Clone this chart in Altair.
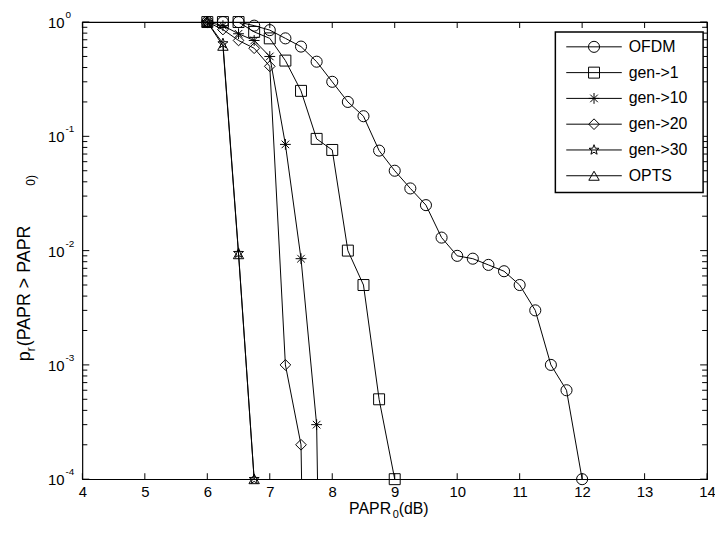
import math
import altair as alt
import pandas as pd

# ---------------- data ----------------
series_names = ["OFDM", "gen->1", "gen->10", "gen->20", "gen->30", "OPTS"]

ofdm_x = [6.0, 6.25, 6.5, 6.75, 7.0, 7.25, 7.5, 7.75, 8.0, 8.25, 8.5, 8.75, 9.0,
          9.25, 9.5, 9.75, 10.0, 10.25, 10.5, 10.75, 11.0, 11.25, 11.5, 11.75, 12.0]
ofdm_p = [1.0, 1.0, 1.0, 0.93, 0.85, 0.72, 0.61, 0.45, 0.30, 0.20, 0.15, 0.075, 0.05,
          0.035, 0.025, 0.013, 0.009, 0.0085, 0.0075, 0.0066, 0.005, 0.003, 0.001, 0.0006, 0.0001]

gen1_x = [6.0, 6.25, 6.5, 6.75, 7.0, 7.25, 7.5, 7.75, 8.0, 8.25, 8.5, 8.75, 9.0]
gen1_p = [1.0, 1.0, 1.0, 0.82, 0.72, 0.46, 0.25, 0.095, 0.076, 0.01, 0.005, 0.0005, 0.0001]

gen10_x = [6.0, 6.25, 6.5, 6.75, 7.0, 7.25, 7.5, 7.75, 8.0]
gen10_p = [1.0, 0.93, 0.79, 0.69, 0.5, 0.085, 0.0085, 0.0003, 1e-12]

gen20_x = [6.0, 6.25, 6.5, 6.75, 7.0, 7.25, 7.5, 7.75]
gen20_p = [1.0, 0.86, 0.69, 0.59, 0.41, 0.001, 0.0002, 1e-12]

gen30_x = [6.0, 6.25, 6.5, 6.75]
gen30_p = [1.0, 0.65, 0.0095, 0.0001]

opts_x = [6.0, 6.25, 6.5, 6.75]
opts_p = [1.0, 0.62, 0.0093, 0.0001]

x_tick_values = [4, 5, 6, 7, 8, 9, 10, 11, 12, 13, 14]
y_major_values = [1.0, 0.1, 0.01, 0.001, 0.0001]
y_exponents = ["0", "-1", "-2", "-3", "-4"]
y_minor_values = [k * 10.0 ** d for d in (-4, -3, -2, -1) for k in range(2, 10)]

# ---------------- build tables ----------------
W, H = 630, 461
FONT = "Liberation Sans"

rows = []
for name, xs_, ps in [("OFDM", ofdm_x, ofdm_p), ("gen->1", gen1_x, gen1_p),
                      ("gen->10", gen10_x, gen10_p), ("gen->20", gen20_x, gen20_p),
                      ("gen->30", gen30_x, gen30_p), ("OPTS", opts_x, opts_p)]:
    for x, p in zip(xs_, ps):
        rows.append({"series": name, "x": x, "p": p})
df = pd.DataFrame(rows)

star_pts = []
for k in range(10):
    a = -math.pi / 2 + k * math.pi / 5
    r = 1.0 if k % 2 == 0 else 0.42
    star_pts.append(f"{r*math.cos(a):.3f},{r*math.sin(a):.3f}")
star_path = "M" + "L".join(star_pts) + "Z"
asterisk_path = "M-1,0L1,0M0,-1L0,1M-0.7,-0.7L0.7,0.7M-0.7,0.7L0.7,-0.7"

shape_scale = alt.Scale(domain=series_names,
                        range=["circle", "square", asterisk_path, "diamond", star_path, "triangle-up"])
size_scale = alt.Scale(domain=series_names, range=[125, 110, 110, 130, 100, 170])

xs = alt.Scale(domain=[4, 14], nice=False, zero=False)
ys = alt.Scale(type="log", domain=[1e-4, 1], nice=False)

base = alt.Chart(df)

lines = base.mark_line(color="black", strokeWidth=1, clip=True).encode(
    x=alt.X("x:Q", scale=xs,
            axis=alt.Axis(values=x_tick_values, format="d", ticks=False, domain=False, grid=False,
                          title=None, labelFontSize=15, labelFont=FONT, labelColor="black",
                          labelPadding=5, labelFlush=False)),
    y=alt.Y("p:Q", scale=ys, axis=None),
    detail="series:N",
)

points = base.mark_point(filled=False, stroke="black", strokeWidth=1, opacity=1).encode(
    x=alt.X("x:Q", scale=xs),
    y=alt.Y("p:Q", scale=ys),
    shape=alt.Shape("series:N", scale=shape_scale, legend=None),
    size=alt.Size("series:N", scale=size_scale, legend=None),
).transform_filter("datum.p > 1e-6")

# ---------------- ticks (inside, mirrored) ----------------
xt = pd.DataFrame({"tx": x_tick_values})
xtick_b = alt.Chart(xt).mark_rule(color="black", strokeWidth=1).encode(
    x=alt.X("tx:Q", scale=xs), y=alt.value(H), y2=alt.value(H - 6))
xtick_t = alt.Chart(xt).mark_rule(color="black", strokeWidth=1).encode(
    x=alt.X("tx:Q", scale=xs), y=alt.value(0), y2=alt.value(6))

ymaj = pd.DataFrame({"ty": y_major_values, "e": y_exponents})
ymin = pd.DataFrame({"ty": y_minor_values})
ytick_lm = alt.Chart(ymaj).mark_rule(color="black").encode(
    y=alt.Y("ty:Q", scale=ys), x=alt.value(0), x2=alt.value(7))
ytick_rm = alt.Chart(ymaj).mark_rule(color="black").encode(
    y=alt.Y("ty:Q", scale=ys), x=alt.value(W), x2=alt.value(W - 7))
ytick_ln = alt.Chart(ymin).mark_rule(color="black").encode(
    y=alt.Y("ty:Q", scale=ys), x=alt.value(0), x2=alt.value(5))
ytick_rn = alt.Chart(ymin).mark_rule(color="black").encode(
    y=alt.Y("ty:Q", scale=ys), x=alt.value(W), x2=alt.value(W - 5))

ylab_base = alt.Chart(ymaj).mark_text(font=FONT, fontSize=15, align="right", baseline="middle",
                                      color="black", dy=1).encode(
    y=alt.Y("ty:Q", scale=ys), x=alt.value(-18), text=alt.value("10"))
ylab_exp = alt.Chart(ymaj).mark_text(font=FONT, fontSize=10, align="left", baseline="middle",
                                     color="black", dy=-7).encode(
    y=alt.Y("ty:Q", scale=ys), x=alt.value(-17), text="e:N")

# ---------------- axis titles ----------------
one = pd.DataFrame({"a": [0]})

def txt(s, x, y, size, angle=0, align="left", baseline="alphabetic"):
    kw = dict(font=FONT, fontSize=size, align=align, baseline=baseline, color="black")
    if angle:
        kw["angle"] = angle
    return alt.Chart(one).mark_text(**kw).encode(x=alt.value(x), y=alt.value(y), text=alt.value(s))

xtitle = [
    txt("PAPR", 269, 496, 16),
    txt("0", 313, 500, 11),
    txt("(dB)", 319, 496, 16),
]
ytitle = [
    txt("p", -53, 342, 18, angle=270),
    txt("r", -48, 332, 12, angle=270),
    txt("(PAPR  >  PAPR", -53, 327, 18, angle=270),
    txt("0)", -48, 165, 12, angle=270),
]

# ---------------- legend ----------------
leg = pd.DataFrame({"series": series_names, "ly": [25 + 26 * i for i in range(len(series_names))]})
leg_box = alt.Chart(one).mark_rect(fill="white", stroke="black", strokeWidth=1.5).encode(
    x=alt.value(477), x2=alt.value(626), y=alt.value(10), y2=alt.value(172))
leg_line = alt.Chart(leg).mark_rule(color="black", strokeWidth=1).encode(
    x=alt.value(488), x2=alt.value(544), y=alt.Y("ly:Q", scale=None))
leg_pt = alt.Chart(leg).mark_point(filled=False, stroke="black", strokeWidth=1, opacity=1).encode(
    x=alt.value(516), y=alt.Y("ly:Q", scale=None),
    shape=alt.Shape("series:N", scale=shape_scale, legend=None),
    size=alt.Size("series:N", scale=size_scale, legend=None))
leg_txt = alt.Chart(leg).mark_text(font=FONT, fontSize=16, align="left", baseline="middle",
                                   color="black").encode(
    x=alt.value(551), y=alt.Y("ly:Q", scale=None), text="series:N")

chart = alt.layer(
    lines, points, xtick_b, xtick_t, ytick_lm, ytick_rm, ytick_ln, ytick_rn,
    ylab_base, ylab_exp, *xtitle, *ytitle, leg_box, leg_line, leg_pt, leg_txt
).properties(
    width=W, height=H,
    autosize=alt.AutoSizeParams(type="none"),
    padding={"left": 75, "top": 12, "right": 8, "bottom": 39},
    background="white",
).configure_view(stroke="black", strokeWidth=1.2)

chart.save("out.html", embed_options={"renderer": "svg", "actions": False})
